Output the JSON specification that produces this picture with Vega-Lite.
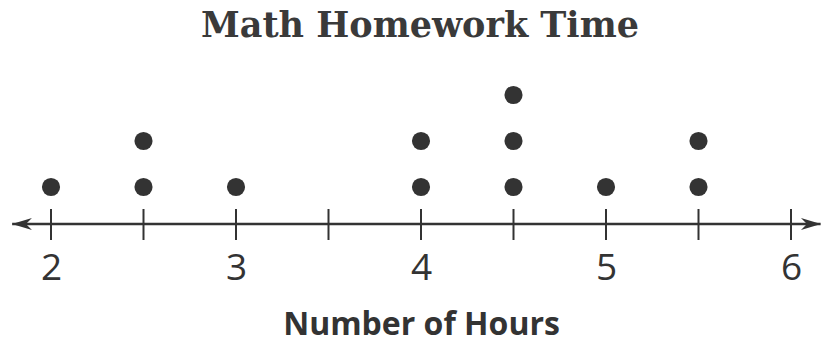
{
  "$schema": "https://vega.github.io/schema/vega-lite/v6.json",
  "width": 822,
  "height": 190,
  "autosize": "none",
  "padding": {"top": 50, "left": 0, "right": 0, "bottom": 105},
  "background": "white",
  "config": {"view": {"stroke": null}},
  "title": {
    "text": "Math Homework Time",
    "font": "DejaVu Serif",
    "fontSize": 35,
    "fontWeight": "bold",
    "color": "#3a3a3a",
    "anchor": "middle",
    "baseline": "alphabetic",
    "frame": "group",
    "offset": 10,
    "dy": 32,
    "dx": 9
  },
  "datasets": {
    "homework": [
      {"hours": 2},
      {"hours": 2.5}, {"hours": 2.5},
      {"hours": 3},
      {"hours": 4}, {"hours": 4},
      {"hours": 4.5}, {"hours": 4.5}, {"hours": 4.5},
      {"hours": 5},
      {"hours": 5.5}, {"hours": 5.5}
    ],
    "marks": [
      {"hours": 2}, {"hours": 2.5}, {"hours": 3}, {"hours": 3.5}, {"hours": 4},
      {"hours": 4.5}, {"hours": 5}, {"hours": 5.5}, {"hours": 6}
    ]
  },
  "layer": [
    {
      "data": {"name": "homework"},
      "transform": [
        {"window": [{"op": "row_number", "as": "level"}], "groupby": ["hours"]}
      ],
      "mark": {"type": "point", "filled": true, "size": 330, "color": "#333333", "opacity": 1},
      "encoding": {
        "x": {
          "field": "hours",
          "type": "quantitative",
          "scale": {"domain": [2, 6], "range": [51, 791], "nice": false, "zero": false},
          "axis": {
            "values": [2, 3, 4, 5, 6],
            "format": "d",
            "domain": false,
            "ticks": false,
            "grid": false,
            "labelFlush": false,
            "labelFont": "Open Sans",
            "labelFontSize": 37,
            "labelColor": "#333333",
            "labelPadding": 10,
            "title": "Number of Hours",
            "titleFont": "Open Sans",
            "titleFontSize": 32,
            "titleFontWeight": "bold",
            "titleColor": "#333333",
            "titlePadding": 23
          }
        },
        "y": {
          "field": "level",
          "type": "quantitative",
          "scale": {"domain": [0, 4], "range": [183, -1], "nice": false, "zero": false},
          "axis": null
        }
      }
    },
    {
      "data": {"values": [{}]},
      "mark": {"type": "rule", "color": "#333333", "strokeWidth": 2.5},
      "encoding": {
        "x": {"datum": 1.79, "type": "quantitative"},
        "x2": {"datum": 6.16},
        "y": {"datum": 0.196, "type": "quantitative"}
      }
    },
    {
      "data": {"name": "marks"},
      "mark": {"type": "rule", "color": "#333333", "strokeWidth": 2},
      "encoding": {
        "x": {"field": "hours", "type": "quantitative"},
        "y": {"datum": 0.522, "type": "quantitative"},
        "y2": {"datum": -0.152}
      }
    },
    {
      "data": {"values": [{}]},
      "mark": {"type": "point", "filled": true, "opacity": 1, "color": "#333333", "size": 400, "shape": "M-1,0 L1,-0.6 L0.4,0 L1,0.6 Z"},
      "encoding": {
        "x": {"datum": 1.843, "type": "quantitative"},
        "y": {"datum": 0.196, "type": "quantitative"}
      }
    },
    {
      "data": {"values": [{}]},
      "mark": {"type": "point", "filled": true, "opacity": 1, "color": "#333333", "size": 400, "shape": "M1,0 L-1,-0.6 L-0.4,0 L-1,0.6 Z"},
      "encoding": {
        "x": {"datum": 6.108, "type": "quantitative"},
        "y": {"datum": 0.196, "type": "quantitative"}
      }
    }
  ]
}
